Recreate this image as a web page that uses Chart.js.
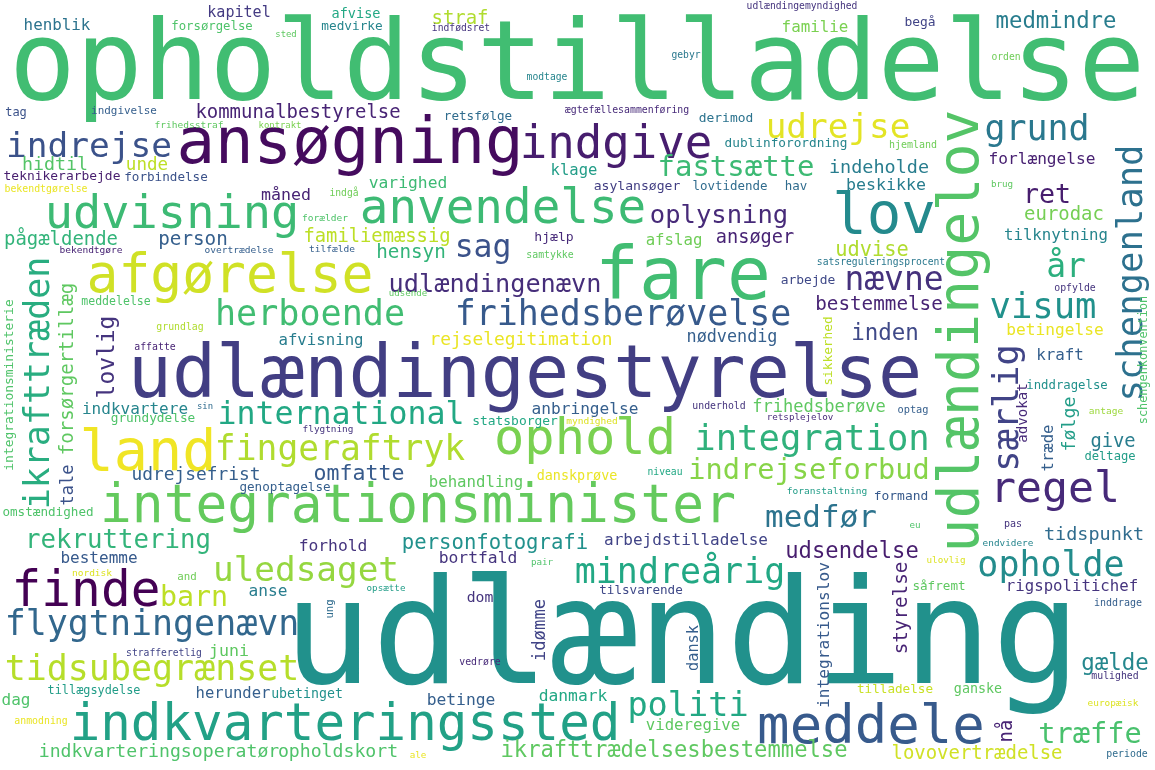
<!DOCTYPE html>
<html>
<head>
<meta charset="utf-8">
<title>Ordsky</title>
<script src="https://cdn.jsdelivr.net/npm/chart.js@4.4.1/dist/chart.umd.min.js"></script>
<style>
  html, body { margin: 0; padding: 0; background: #ffffff; }
  #wrap { width: 1155px; height: 770px; }
</style>
</head>
<body>
<div id="wrap"><canvas id="chart" width="1155" height="770"></canvas></div>
<script>
"use strict";

// horizontal words: word, relative frequency (udlænding ~ 100), position in cloud units, viridis shade
const flatWords = [
  "opholdstilladelse", "ansøgning", "indgive", "udrejse", "lov", "udvisning", "anvendelse", "afgørelse", "fare", "udlændingestyrelse",
  "land", "fingeraftryk", "ophold", "integrationsminister", "integration", "indrejseforbud", "regel", "udlænding", "indkvarteringssted", "meddele",
  "finde", "flygtningenævn", "tidsubegrænset", "uledsaget", "barn", "rekruttering", "mindreårig", "politi", "opholde", "medfør",
  "udsendelse", "træffe", "gælde", "herboende", "frihedsberøvelse", "international", "visum", "år", "nævne", "bestemmelse",
  "inden", "oplysning", "fastsætte", "sag", "udlændingenævn", "rejselegitimation", "grund", "indrejse", "kommunalbestyrelse", "medmindre",
  "forlængelse", "ret", "eurodac", "tilknytning", "indeholde", "beskikke", "udvise", "klage", "varighed", "familiemæssig",
  "hensyn", "hjælp", "kapitel", "henblik", "hidtil", "unde", "pågældende", "person", "straf", "familie",
  "afslag", "ansøger", "afvisning", "indkvartere", "udrejsefrist", "omfatte", "behandling", "anbringelse", "nødvendig", "frihedsberøve",
  "betingelse", "kraft", "give", "personfotografi", "forhold", "bortfald", "arbejdstilladelse", "tidspunkt", "rigspolitichef", "herunder",
  "juni", "anse", "bestemme", "dag", "betinge", "danmark", "videregive", "ikrafttrædelsesbestemmelse", "indkvarteringsoperatør", "opholdskort",
  "lovovertrædelse", "formand", "deltage", "inddragelse", "dublinforordning", "derimod", "asylansøger", "lovtidende", "hav", "retsfølge",
  "indgivelse", "tag", "teknikerarbejde", "forbindelse", "forsørgelse", "afvise", "medvirke", "måned", "begå", "tilsvarende",
  "statsborger", "såfremt", "ganske", "tilladelse", "grundydelse", "genoptagelse", "omstændighed", "meddelelse", "tillægsydelse", "ubetinget",
  "arbejde", "danskprøve", "dom", "bekendtgørelse", "bekendtgøre", "overtrædelse", "frihedsstraf", "kontrakt", "sted", "indfødsret",
  "modtage", "gebyr", "udlændingemyndighed", "orden", "hjemland", "brug", "ægtefællesammenføring", "indgå", "forælder", "tilfælde",
  "samtykke", "grundlag", "affatte", "sin", "udsende", "flygtning", "myndighed", "underhold", "retsplejelov", "niveau",
  "foranstaltning", "satsreguleringsprocent", "opfylde", "antage", "optag", "nordisk", "and", "strafferetlig", "anmodning", "pair",
  "opsætte", "vedrøre", "ale", "eu", "pas", "endvidere", "ulovlig", "inddrage", "mulighed", "europæisk",
  "periode"
];
const flatFreq = [
  72.1, 41.6, 29.7, 22.3, 37.3, 30.5, 30.9, 34.4, 47.4, 47.6,
  36.9, 22.5, 32.7, 34.3, 23.1, 18.6, 28.1, 95.5, 33.0, 35.1,
  32.1, 22.7, 22.7, 22.3, 18.4, 16.7, 22.7, 21.8, 22.7, 20.1,
  14.4, 18.6, 14.6, 22.8, 22.7, 20.5, 23.1, 21.4, 21.4, 12.5,
  14.6, 16.6, 18.8, 20.4, 16.4, 11.6, 22.7, 22.4, 12.3, 14.5,
  10.5, 17.3, 12.3, 10.2, 12.0, 10.8, 13.2, 10.1, 10.6, 12.2,
  12.5, 8.5, 9.8, 10.3, 11.9, 11.4, 12.3, 12.5, 12.3, 10.3,
  10.2, 12.1, 10.2, 10.4, 11.6, 14.0, 10.2, 10.5, 10.9, 11.1,
  10.5, 10.3, 12.2, 13.4, 10.6, 10.6, 10.4, 12.0, 10.2, 10.1,
  10.8, 10.5, 10.4, 10.4, 10.6, 10.6, 10.2, 14.4, 11.8, 11.8,
  12.3, 8.4, 7.9, 8.0, 8.3, 8.4, 8.5, 8.1, 8.1, 8.2,
  7.1, 7.8, 8.4, 8.2, 8.0, 8.8, 8.3, 10.8, 8.4, 8.2,
  8.4, 8.2, 8.7, 8.2, 8.3, 8.2, 8.2, 7.5, 7.7, 8.6,
  8.4, 8.7, 9.6, 6.4, 6.2, 6.2, 6.2, 5.8, 5.8, 6.3,
  6.3, 6.3, 6.3, 6.3, 6.5, 6.0, 6.4, 6.3, 6.2, 6.2,
  6.4, 6.4, 6.4, 5.8, 5.9, 6.1, 6.2, 6.4, 6.0, 6.3,
  6.2, 6.3, 6.4, 6.2, 6.7, 6.2, 7.0, 6.3, 6.4, 6.0,
  6.0, 6.4, 6.0, 6.0, 6.5, 6.1, 6.0, 6.5, 6.4, 6.1,
  6.4
];
// centre of word along x, baseline along y
const flatX = [
  577, 350, 616, 838, 884, 172, 503, 230, 683, 525,
  148, 340, 585, 418, 812, 809, 1055, 682, 345, 871,
  86, 152, 152, 306, 194, 118, 680, 688, 1051, 821,
  852, 1090, 1115, 310, 623, 341, 1043, 1066, 894, 879,
  885, 719, 736, 483, 495, 521, 1037, 89, 298, 1056,
  1042, 1047, 1064, 1056, 879, 886, 872, 574, 408, 377,
  411, 554, 239, 57, 55, 147, 61, 193, 460, 815,
  674, 755, 321, 135, 196, 359, 476, 585, 732, 819,
  1055, 1060, 1113, 495, 333, 478, 686, 1094, 1072, 233,
  229, 268, 99, 16, 461, 573, 693, 674, 159, 338,
  977, 901, 1110, 1067, 786, 726, 637, 730, 796, 478,
  124, 16, 62, 166, 212, 356, 352, 286, 920, 641,
  515, 939, 978, 895, 153, 285, 48, 116, 94, 307,
  808, 577, 480, 46, 91, 239, 189, 280, 286, 461,
  547, 686, 802, 1006, 913, 1002, 627, 344, 325, 332,
  550, 180, 155, 205, 408, 328, 592, 719, 800, 665,
  827, 881, 1075, 1106, 913, 92, 187, 164, 41, 542,
  386, 480, 418, 915, 1013, 1008, 946, 1118, 1115, 1113,
  1127
];
const flatY = [
  99, 163, 158, 138, 233, 228, 223, 292, 299, 397,
  470, 460, 454, 522, 450, 479, 502, 683, 740, 743,
  606, 635, 680, 581, 606, 548, 583, 716, 576, 527,
  558, 743, 670, 325, 325, 424, 318, 277, 290, 310,
  340, 223, 176, 257, 292, 345, 140, 157, 118, 28,
  164, 203, 220, 240, 173, 190, 256, 175, 188, 242,
  258, 241, 17, 30, 170, 170, 245, 245, 24, 32,
  245, 243, 345, 414, 480, 480, 487, 414, 342, 412,
  335, 360, 447, 549, 551, 563, 545, 540, 591, 698,
  656, 596, 563, 705, 705, 701, 730, 757, 757, 757,
  759, 500, 460, 389, 147, 122, 190, 190, 190, 120,
  114, 116, 180, 181, 30, 18, 30, 200, 26, 594,
  425, 590, 693, 693, 422, 491, 516, 305, 694, 698,
  284, 480, 602, 192, 253, 253, 128, 128, 37, 31,
  80, 58, 9, 60, 148, 187, 113, 196, 221, 252,
  258, 330, 350, 409, 296, 432, 424, 409, 420, 475,
  494, 265, 291, 414, 413, 576, 580, 656, 724, 565,
  591, 665, 758, 528, 527, 546, 563, 606, 679, 706,
  757
];
const flatShade = [
  0.69, 0.03, 0.08, 0.96, 0.47, 0.68, 0.68, 0.93, 0.69, 0.18,
  0.98, 0.88, 0.80, 0.76, 0.64, 0.82, 0.12, 0.50, 0.57, 0.28,
  0.00, 0.33, 0.89, 0.84, 0.90, 0.65, 0.60, 0.60, 0.48, 0.38,
  0.08, 0.71, 0.46, 0.69, 0.28, 0.60, 0.50, 0.63, 0.14, 0.10,
  0.22, 0.12, 0.68, 0.25, 0.13, 0.97, 0.40, 0.25, 0.10, 0.42,
  0.09, 0.08, 0.79, 0.45, 0.42, 0.42, 0.88, 0.55, 0.68, 0.90,
  0.65, 0.12, 0.17, 0.38, 0.73, 0.90, 0.65, 0.30, 0.88, 0.80,
  0.78, 0.10, 0.42, 0.45, 0.30, 0.28, 0.75, 0.30, 0.30, 0.75,
  0.97, 0.30, 0.42, 0.50, 0.15, 0.15, 0.20, 0.35, 0.15, 0.30,
  0.75, 0.42, 0.28, 0.72, 0.30, 0.60, 0.75, 0.75, 0.72, 0.72,
  0.93, 0.28, 0.55, 0.50, 0.45, 0.38, 0.18, 0.35, 0.35, 0.35,
  0.30, 0.25, 0.08, 0.25, 0.72, 0.60, 0.45, 0.10, 0.20, 0.22,
  0.60, 0.75, 0.75, 0.92, 0.72, 0.30, 0.72, 0.72, 0.55, 0.50,
  0.22, 0.97, 0.15, 0.97, 0.10, 0.30, 0.75, 0.80, 0.75, 0.15,
  0.45, 0.40, 0.15, 0.78, 0.78, 0.75, 0.12, 0.78, 0.72, 0.30,
  0.75, 0.88, 0.10, 0.35, 0.75, 0.15, 0.95, 0.15, 0.12, 0.60,
  0.55, 0.40, 0.15, 0.85, 0.30, 0.95, 0.78, 0.20, 0.97, 0.72,
  0.55, 0.12, 0.97, 0.72, 0.15, 0.45, 0.95, 0.30, 0.15, 0.95,
  0.35
];

// words set vertically (read bottom to top): x is the baseline, y the centre
const upWords = [
  "udlændingelov", "schengenland", "ikrafttræden", "forsørgertillæg", "integrationsministerie", "lovlig", "tale", "sikkerhed", "særlig", "advokat",
  "følge", "træde", "schengenkonvention", "idømme", "integrationslov", "dansk", "styrelse", "nå", "ung"
];
const upFreq = [36.8, 23.1, 22.7, 12.4, 8.4, 14.9, 11.0, 8.3, 22.9, 9.2, 11.9, 10.1, 7.7, 11.2, 10.5, 9.9, 12.5, 12.3, 6.9];
const upX = [978, 1142, 49, 73, 13, 114, 73, 832, 1018, 1027, 1075, 1053, 1147, 545, 829, 698, 907, 1012, 333];
const upY = [331, 273, 383, 369, 385, 357, 485, 351, 408, 413, 424, 448, 360, 630, 635, 648, 608, 731, 609];
const upShade = [0.73, 0.37, 0.62, 0.75, 0.72, 0.15, 0.25, 0.90, 0.20, 0.12, 0.55, 0.30, 0.72, 0.20, 0.28, 0.30, 0.10, 0.10, 0.35];

const viridisStops = ["#440154", "#482475", "#414487", "#355f8d", "#2a788e", "#21918c", "#22a884", "#44bf70", "#7ad151", "#bddf26", "#fde725"];

function viridis(t) {
  const pos = Math.max(0, Math.min(1, t)) * (viridisStops.length - 1);
  const i = Math.min(Math.floor(pos), viridisStops.length - 2);
  const f = pos - i;
  const a = viridisStops[i], b = viridisStops[i + 1];
  const mix = (k) => Math.round(parseInt(a.substr(k, 2), 16) * (1 - f) + parseInt(b.substr(k, 2), 16) * f);
  return `rgb(${mix(1)}, ${mix(3)}, ${mix(5)})`;
}

function makePoints(xs, ys) {
  const pts = [];
  for (let i = 0; i < xs.length; i++) {
    pts.push({ x: xs[i], y: ys[i] });
  }
  return pts;
}

// draws each word at its point, size taken from the frequency
const wordPlugin = {
  id: "wordLabels",
  afterDatasetsDraw(chart) {
    const ctx = chart.ctx;
    const area = chart.chartArea;
    const unit = (area.bottom - area.top) * 0.2 / 100;
    const sets = [
      { words: flatWords, freq: flatFreq, shade: flatShade, up: false },
      { words: upWords, freq: upFreq, shade: upShade, up: true }
    ];
    ctx.save();
    ctx.textAlign = "center";
    ctx.textBaseline = "alphabetic";
    sets.forEach((s, d) => {
      const meta = chart.getDatasetMeta(d);
      meta.data.forEach((pt, j) => {
        const size = s.freq[j] * unit;
        ctx.font = `${size.toFixed(2)}px "DejaVu Sans Mono"`;
        ctx.fillStyle = viridis(s.shade[j]);
        if (s.up) {
          ctx.save();
          ctx.translate(pt.x, pt.y);
          ctx.rotate(-Math.PI / 2);
          ctx.fillText(s.words[j], 0, 0);
          ctx.restore();
        } else {
          ctx.fillText(s.words[j], pt.x, pt.y);
        }
      });
    });
    ctx.restore();
  }
};

const data = {
  datasets: [
    { label: "vandret", data: makePoints(flatX, flatY), pointRadius: 0 },
    { label: "lodret", data: makePoints(upX, upY), pointRadius: 0 }
  ]
};

const config = {
  type: "scatter",
  data: data,
  options: {
    responsive: false,
    animation: false,
    layout: { padding: 0 },
    scales: {
      x: { type: "linear", min: 0, max: 1155, display: false },
      y: { type: "linear", min: 0, max: 770, reverse: true, display: false }
    },
    plugins: {
      legend: { display: false },
      tooltip: { enabled: false }
    }
  },
  plugins: [wordPlugin]
};

const cloudChart = new Chart(document.getElementById("chart"), config);
</script>
</body>
</html>
